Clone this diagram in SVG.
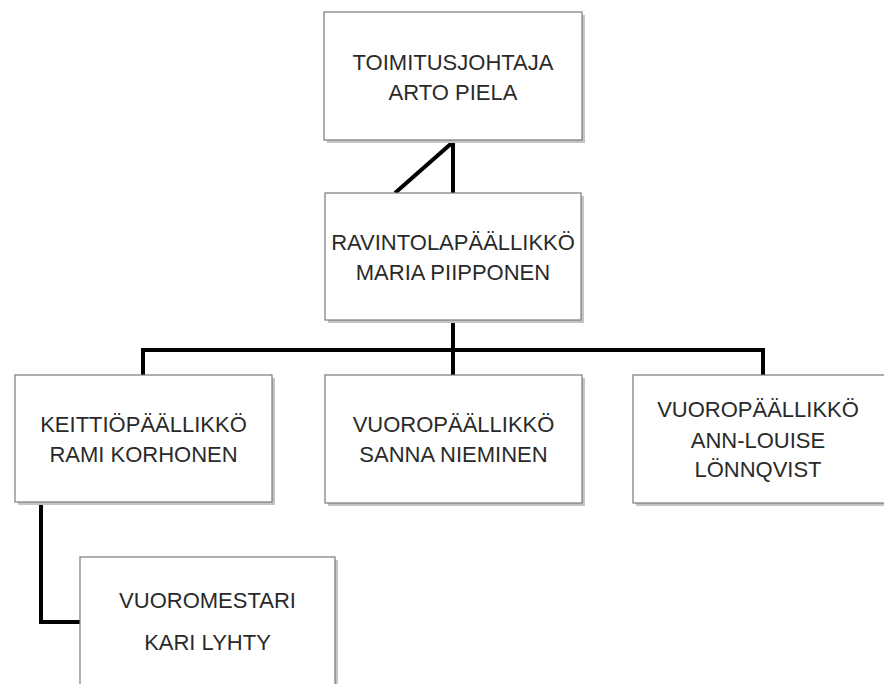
<svg xmlns="http://www.w3.org/2000/svg" width="884" height="684" viewBox="0 0 884 684">
<style>
.box{fill:#ffffff;stroke:#7a7a7a;stroke-width:1.2}
.sh{fill:#c4c4c4}
.t{font-family:"Liberation Sans",Arial,sans-serif;font-size:22px;fill:#2a2a2a;text-anchor:middle}
.c{fill:none;stroke:#000;stroke-width:4;stroke-linejoin:miter}
</style>
<rect width="884" height="684" fill="#ffffff"/>
<g id="connectors">
<path class="c" d="M395,193 L453,142 L453,193"/>
<path class="c" d="M453,320 L453,375"/>
<path class="c" d="M143,375 L143,350 L763,350 L763,375"/>
<path class="c" d="M41,502 L41,622 L80,622"/>
</g>
<g id="n1">
<rect class="sh" x="327" y="15" width="258" height="128"/>
<rect class="box" x="324" y="12" width="258" height="128"/>
<text class="t" x="453" y="70">TOIMITUSJOHTAJA</text>
<text class="t" x="453" y="100">ARTO PIELA</text>
</g>
<g id="n2">
<rect class="sh" x="328" y="196" width="256" height="127"/>
<rect class="box" x="325" y="193" width="256" height="127"/>
<text class="t" x="453" y="250">RAVINTOLAPÄÄLLIKKÖ</text>
<text class="t" x="453" y="280">MARIA PIIPPONEN</text>
</g>
<g id="n3">
<rect class="sh" x="18" y="378" width="257" height="127"/>
<rect class="box" x="15" y="375" width="257" height="127"/>
<text class="t" x="143.5" y="432">KEITTIÖPÄÄLLIKKÖ</text>
<text class="t" x="143.5" y="462">RAMI KORHONEN</text>
</g>
<g id="n4">
<rect class="sh" x="328" y="378" width="257" height="128"/>
<rect class="box" x="325" y="375" width="257" height="128"/>
<text class="t" x="453.5" y="432">VUOROPÄÄLLIKKÖ</text>
<text class="t" x="453.5" y="462">SANNA NIEMINEN</text>
</g>
<g id="n5">
<rect class="sh" x="636" y="378" width="252" height="128"/>
<rect class="box" x="633" y="375" width="252" height="128"/>
<text class="t" x="758" y="417">VUOROPÄÄLLIKKÖ</text>
<text class="t" x="758" y="448">ANN-LOUISE</text>
<text class="t" x="758" y="477">LÖNNQVIST</text>
</g>
<g id="n6">
<rect class="sh" x="83" y="560" width="255" height="140"/>
<rect class="box" x="80" y="557" width="255" height="140"/>
<text class="t" x="207.5" y="608">VUOROMESTARI</text>
<text class="t" x="207.5" y="650">KARI LYHTY</text>
</g>
</svg>
